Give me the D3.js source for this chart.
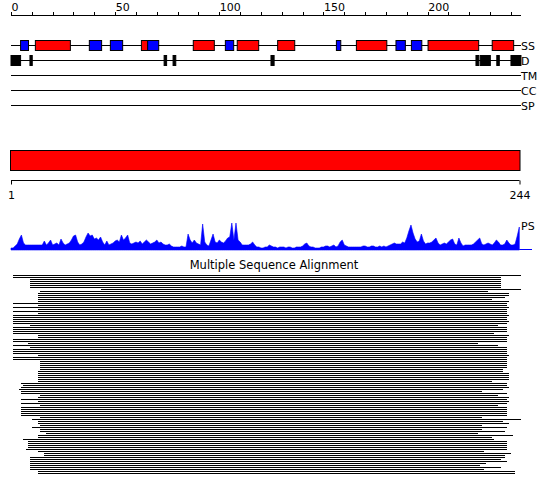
<!DOCTYPE html>
<html>
<head>
<meta charset="utf-8">
<script src="https://cdn.jsdelivr.net/npm/d3@7"></script>
<style>
  html, body { margin: 0; padding: 0; background: #fff; }
  svg { display: block; font-family: "DejaVu Sans", sans-serif; }
</style>
</head>
<body>
<svg id="chart" width="550" height="495"></svg>
<script>
// ---------------- DATA ----------------
const seqLength = 244;
const topTicks = d3.range(0, 241, 10);
const topTickLabels = [0, 50, 100, 150, 200];
const trackLabels = ["SS", "D", "TM", "CC", "SP"];

// Secondary structure elements (H = helix red, E = strand blue)
const ssStart = [4.6, 11.7, 37.6, 47.7, 62.6, 65.6, 87.5, 102.9, 108.6, 128, 156.2, 165.8, 184.8, 192.2, 200.2, 231];
const ssEnd   = [8.4, 28.5, 43.5, 53.6, 65.6, 70.9, 97.6, 106.9, 118.9, 136.2, 158.3, 180.4, 189.3, 197.2, 224.5, 241.3];
const ssType  = ["E","H","E","E","H","E","H","E","H","H","E","H","E","E","H","H"];

// Disorder regions
const dStart = [0, 9.1, 73.5, 77.8, 124.8, 223.2, 225.2, 233.2, 240];
const dEnd   = [4.6, 10.2, 74.7, 79.1, 126.3, 224.5, 230.1, 234.4, 244.8];

// Domain bar
const domainStart = 1;
const domainEnd = 244;

// Profile score (index = residue 0..244)
const psValues = [
  2,
  2,4,6,11,15,7,5,5,5,5,
  5,5,5,5,5,9,5,7,10,5,
  6,7,5,11,7,5,6,7,10,14,
  15,8,5,6,8,13,17,14,15,11,
  12,10,13,8,5,9,5,6,7,9,
  10,8,15,10,12,15,7,6,7,8,
  7,9,6,8,10,8,6,7,8,10,
  7,8,6,5,5,6,4,3,3,3,
  3,4,3,3,16,10,7,10,7,6,
  5,26,8,5,4,10,16,8,7,10,
  8,7,9,12,13,27,10,27,10,8,
  5,5,5,5,6,8,5,3,3,2,
  2,3,3,5,4,3,3,2,3,3,
  3,2,3,3,2,2,3,3,3,4,
  6,7,4,3,3,2,2,2,3,3,
  4,4,3,4,5,3,4,8,10,5,
  4,3,3,3,3,3,3,3,4,4,
  3,3,4,4,3,3,4,3,4,3,
  4,5,6,7,6,6,6,8,7,12,
  19,25,17,11,8,9,16,9,6,7,
  7,8,10,12,7,5,6,7,6,8,
  10,11,6,5,12,7,4,5,5,5,
  5,6,8,10,12,6,5,6,7,6,
  5,7,10,8,5,5,6,10,7,5,
  5,6,14,23
];

// Multiple sequence alignment: start / end residue of each aligned sequence
const msaStart = [
  1,1,9,9,9,9,9,43,14,13,
  13,13,13,13,1,13,1,13,1,13,
  1,1,1,1,1,9,1,1,1,1,
  13,13,1,1,8,1,9,1,1,1,
  13,1,1,14,14,14,14,14,
  13,13,13,13,13,13,5,6,5,4,
  5,5,14,13,5,13,5,14,5,5,
  5,5,5,14,10,13,13,14,10,14,
  14,17,13,13,6,8,8,8,8,7,
  13,16,16,9,9,9,9,9,9,9,
  13,13
];
const msaEnd = [
  245,235,235,235,235,235,235,245,229,239,
  239,237,231,239,238,238,239,238,238,238,
  239,238,238,239,238,234,238,238,238,232,
  239,238,238,238,224,234,238,238,238,238,
  239,238,238,238,238,238,238,236,
  236,239,239,239,239,231,238,238,239,236,
  226,238,234,239,238,239,238,234,238,238,
  238,238,238,226,245,236,239,226,238,226,
  237,224,241,231,232,238,238,238,238,238,
  227,240,237,237,235,238,228,225,235,227,
  242,242
];

// ---------------- DRAW ----------------
const svg = d3.select("#chart");
const x = d3.scaleLinear().domain([0, seqLength]).range([11, 519.3]);
const xSeq = d3.scaleLinear().domain([domainStart, domainEnd]).range([11, 519.5]);
const lineEndX = x(245);

// top axis
const topAxis = d3.axisTop(x).tickValues(topTicks).tickSize(4).tickSizeOuter(0).tickPadding(1)
  .tickFormat(d => topTickLabels.includes(d) ? d : "");
const gTop = svg.append("g").attr("transform", "translate(0,15.5)").call(topAxis);
gTop.select(".domain").remove();
gTop.selectAll(".tick line").attr("stroke", "#000").attr("shape-rendering", "crispEdges");
gTop.selectAll(".tick text").attr("text-anchor", "start").attr("font-size", 11)
  .attr("font-family", "DejaVu Sans").attr("fill", "#000");
svg.append("line").attr("x1", x(0)).attr("x2", lineEndX).attr("y1", 15.5).attr("y2", 15.5)
  .attr("stroke", "#000").attr("shape-rendering", "crispEdges");

// track lines
const trackY = [45.5, 60.5, 75.5, 90.5, 105.5];
trackY.forEach((y, i) => {
  svg.append("line").attr("x1", x(0)).attr("x2", lineEndX).attr("y1", y).attr("y2", y)
    .attr("stroke", "#000").attr("shape-rendering", "crispEdges");
  svg.append("text").attr("x", 521).attr("y", y + 4.5).attr("font-size", 11)
    .attr("fill", "#000").text(trackLabels[i]);
});

// SS boxes
const ssData = ssStart.map((s, i) => ({ s, e: ssEnd[i], t: ssType[i] }));
svg.append("g").selectAll("rect").data(ssData).join("rect")
  .attr("x", d => x(d.s)).attr("width", d => x(d.e) - x(d.s))
  .attr("y", 40.5).attr("height", 10)
  .attr("fill", d => d.t === "H" ? "#ff0000" : "#0000ff")
  .attr("stroke", "#000").attr("stroke-width", 1);

// Disorder boxes
const dData = dStart.map((s, i) => ({ s, e: dEnd[i] }));
svg.append("g").selectAll("rect").data(dData).join("rect")
  .attr("x", d => x(d.s)).attr("width", d => Math.max(1, x(d.e) - x(d.s)))
  .attr("y", 55.5).attr("height", 10)
  .attr("fill", "#000").attr("stroke", "#000").attr("stroke-width", 1);

// Domain bar
svg.append("rect").attr("x", xSeq(domainStart) - 0.5).attr("width", xSeq(domainEnd) - xSeq(domainStart) + 1)
  .attr("y", 150.5).attr("height", 20).attr("fill", "#ff0000").attr("stroke", "#000");

// bottom axis
const botAxis = d3.axisBottom(xSeq).tickValues([domainStart, domainEnd]).tickSize(4).tickSizeOuter(0).tickPadding(7);
const gBot = svg.append("g").attr("transform", "translate(0,180.5)").call(botAxis);
gBot.select(".domain").remove();
gBot.selectAll(".tick line").attr("stroke", "#000");
gBot.selectAll(".tick text").attr("font-size", 11).attr("font-family", "DejaVu Sans").attr("fill", "#000");
svg.append("line").attr("x1", xSeq(domainStart)).attr("x2", xSeq(domainEnd)).attr("y1", 180.5).attr("y2", 180.5)
  .attr("stroke", "#000");

// PS profile
const yPS = d3.scaleLinear().domain([0, 30]).range([250, 220]);
const area = d3.area().x((d, i) => x(i)).y0(yPS(0)).y1(d => yPS(d));
svg.append("path").datum(psValues).attr("d", area).attr("fill", "#0000ff").attr("stroke", "#0000ff").attr("stroke-width", 0.6);
svg.append("line").attr("x1", x(seqLength)).attr("x2", 532).attr("y1", yPS(0) - 0.5).attr("y2", yPS(0) - 0.5)
  .attr("stroke", "#0000ff");
svg.append("text").attr("x", 521).attr("y", 230).attr("font-size", 11).attr("fill", "#000").text("PS");

// MSA
svg.append("text").attr("x", 274).attr("y", 269).attr("text-anchor", "middle")
  .attr("font-size", 11.5).attr("fill", "#000").text("Multiple Sequence Alignment");
const msaData = msaStart.map((s, i) => ({ s, e: msaEnd[i], i }));
const yMSA = d3.scaleLinear().domain([0, 1]).range([275, 277]);
svg.append("g").selectAll("rect").data(msaData).join("rect")
  .attr("x", d => x(d.s)).attr("width", d => x(d.e) - x(d.s))
  .attr("y", d => yMSA(d.i)).attr("height", 1.2)
  .attr("fill", "#000").attr("shape-rendering", "crispEdges");
</script>
</body>
</html>
